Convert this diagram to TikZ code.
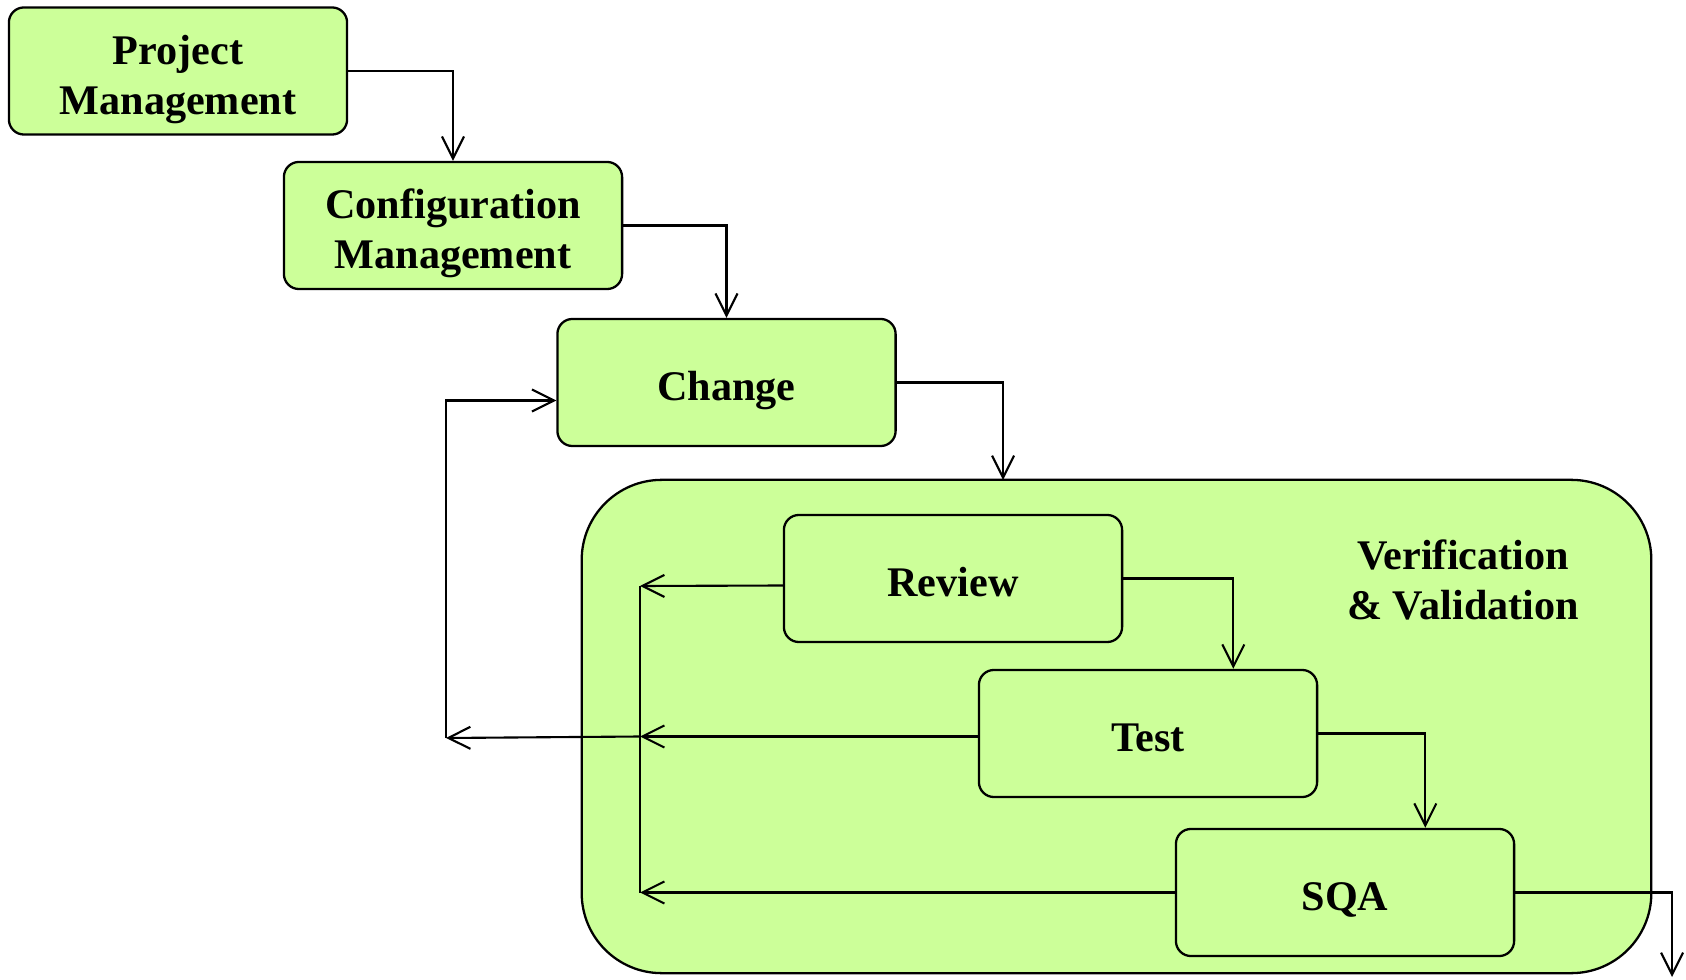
\documentclass[tikz,border=0pt]{standalone}
\usepackage{fontspec}
\setmainfont{Liberation Serif}
\usetikzlibrary{arrows.meta}
\definecolor{boxgreen}{RGB}{204,255,153}

\begin{document}
\begin{tikzpicture}[x=0.01cm,y=-0.01cm,
    >={Straight Barb[length=0.22cm,width=0.22cm]},
    stage/.style={draw,line width=0.65pt,fill=boxgreen,rounded corners=0.15cm,
      minimum width=3.38cm,minimum height=1.27cm,align=center,
      text height=#1,text depth=0pt,
      font=\fontsize{12}{14.2}\selectfont\bfseries},
    stage/.default=10pt,
    group/.style={draw,line width=0.65pt,fill=boxgreen,rounded corners=0.8cm,
      minimum width=10.69cm,minimum height=4.93cm},
    flow/.style={->,line width=0.6pt}]
    \useasboundingbox (0,0) rectangle (1686,980);
    \node[group] (vv) at (1116.5,726.5) {};
    \node[align=center,font=\fontsize{12}{14.4}\selectfont\bfseries] (vvlabel)
      at (1463,580) {Verification\\\& Validation};
    \node[stage=24.6pt] (pm) at (178,71) {Project\\Management};
    \node[stage=24.6pt] (cm) at (453,225.5) {Configuration\\Management};
    \node[stage] (ch) at (726.5,382.5) {Change};
    \node[stage] (rv) at (953,578.5) {Review};
    \node[stage] (te) at (1148,733.5) {Test};
    \node[stage] (sqa) at (1345,892.5) {SQA};
    \coordinate (vvtop) at (1003,480);
    \coordinate (rvturn) at ([xshift=1.1cm]rv.east);
    \coordinate (teturn) at ([xshift=1.07cm]te.east);
    \coordinate (out) at (1672,977);
    \coordinate (bus) at (640,586);
    \coordinate (ret) at (446,738);
    \draw[flow] (pm.east) -| (cm.north);
    \draw[flow] (cm.east) -| (ch.north);
    \draw[flow] (ch.east) -| (vvtop);
    \draw[flow] (rv.east) -| (rvturn |- te.north);
    \draw[flow] (te.east) -| (teturn |- sqa.north);
    \draw[flow] (sqa.east) -| (out);
    \draw[flow] ([yshift=-0.07cm]rv.west) -- (bus);
    \draw[flow] ([yshift=-0.03cm]te.west) -- ([yshift=-0.03cm]te.west -| bus);
    \draw[flow] (sqa.west) -- (sqa.west -| bus);
    \draw[line width=0.6pt] (bus) -- (sqa.west -| bus);
    \draw[flow] ([yshift=-0.03cm]te.west -| bus) -- (ret);
    \draw[flow] (ret) |- ([yshift=-0.18cm]ch.west);
\end{tikzpicture}
\end{document}
